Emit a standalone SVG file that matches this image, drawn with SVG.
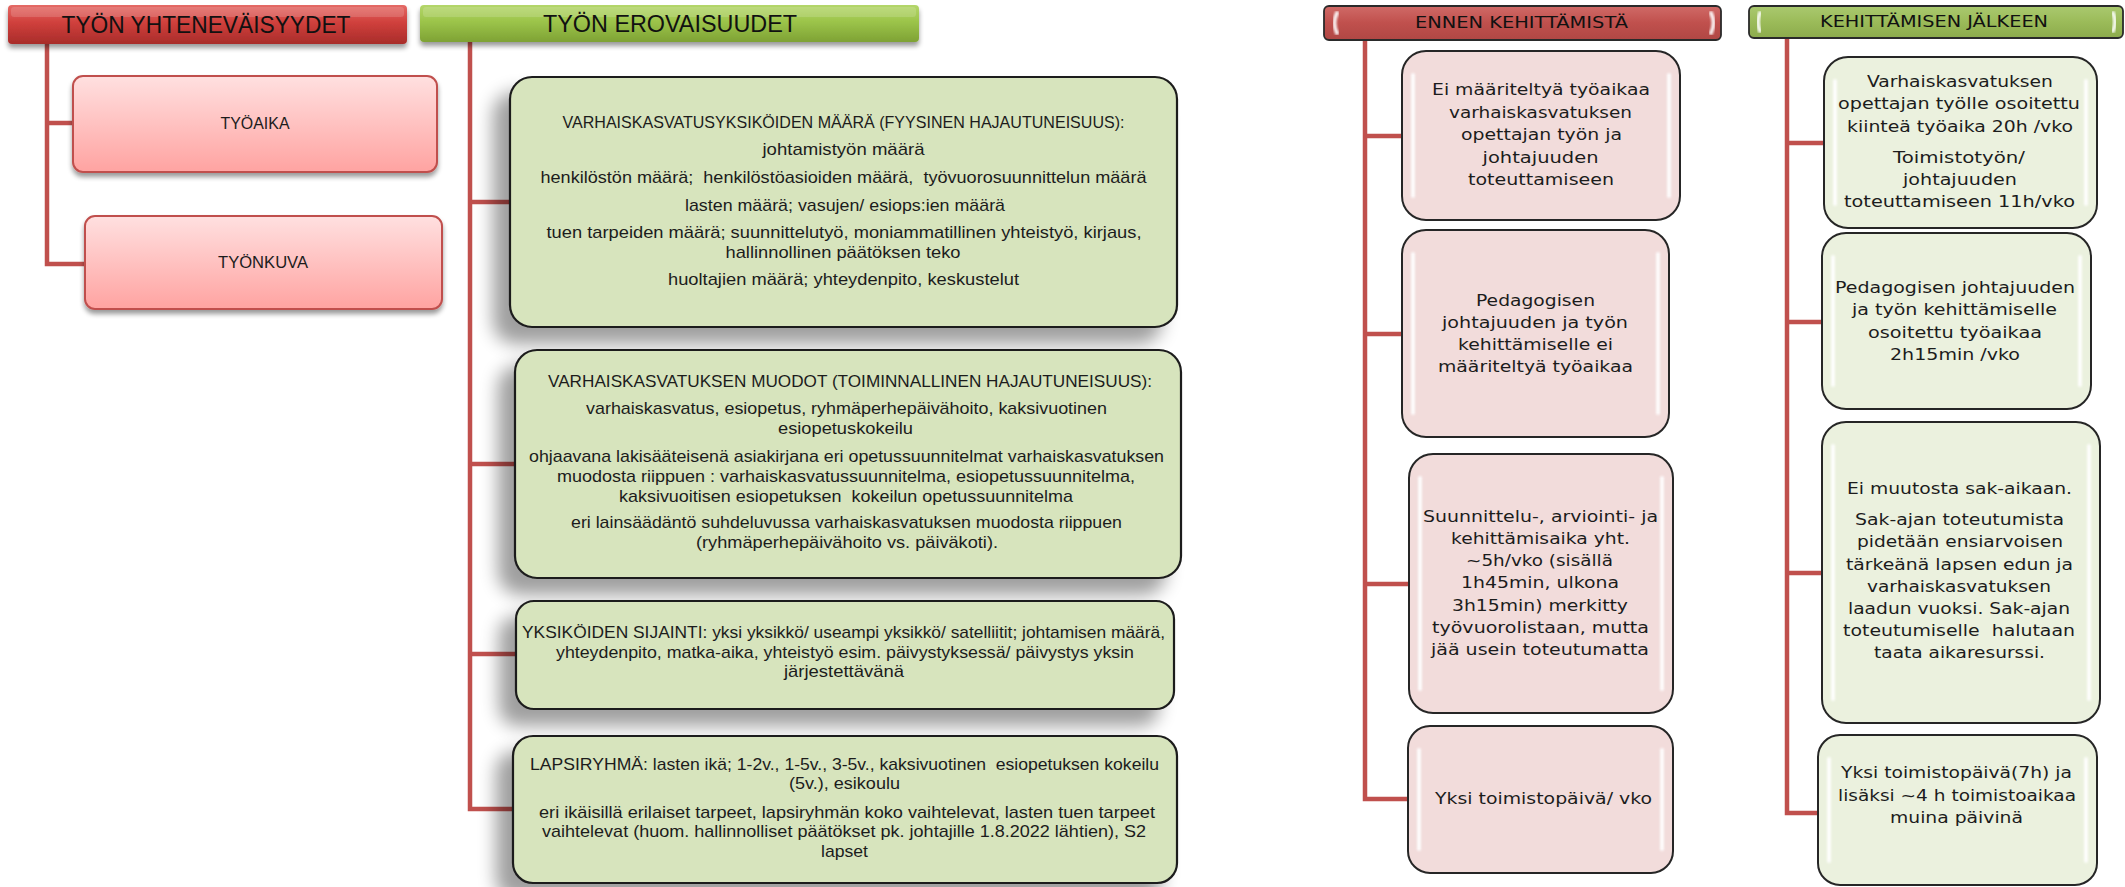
<svg xmlns="http://www.w3.org/2000/svg" width="2125" height="887" viewBox="0 0 2125 887">
<defs>
<linearGradient id="gRedHead" x1="0" y1="0" x2="0" y2="1">
<stop offset="0" stop-color="#e46a66"/><stop offset="0.45" stop-color="#d0403c"/><stop offset="1" stop-color="#a82c2a"/>
</linearGradient>
<linearGradient id="gGreenHead" x1="0" y1="0" x2="0" y2="1">
<stop offset="0" stop-color="#b4d66a"/><stop offset="0.45" stop-color="#9cc44a"/><stop offset="1" stop-color="#7ea234"/>
</linearGradient>
<linearGradient id="gPink" x1="0" y1="0" x2="0" y2="1">
<stop offset="0" stop-color="#ffe0e0"/><stop offset="1" stop-color="#ffa3a1"/>
</linearGradient>
<linearGradient id="gRedBar" x1="0" y1="0" x2="0" y2="1">
<stop offset="0" stop-color="#d06a67"/><stop offset="0.5" stop-color="#c0504d"/><stop offset="1" stop-color="#b04744"/>
</linearGradient>
<linearGradient id="gGreenBar" x1="0" y1="0" x2="0" y2="1">
<stop offset="0" stop-color="#aac96f"/><stop offset="0.5" stop-color="#9bbb59"/><stop offset="1" stop-color="#8cab4c"/>
</linearGradient>
<filter id="bigShadow" x="-20%" y="-20%" width="140%" height="160%">
<feGaussianBlur in="SourceAlpha" stdDeviation="9"/>
<feOffset dx="-16" dy="16" result="b"/>
<feComponentTransfer><feFuncA type="linear" slope="0.38"/></feComponentTransfer>
<feMerge><feMergeNode/><feMergeNode in="SourceGraphic"/></feMerge>
</filter>
<filter id="smallShadow" x="-10%" y="-10%" width="120%" height="140%">
<feGaussianBlur in="SourceAlpha" stdDeviation="2.5"/>
<feOffset dx="0" dy="4"/>
<feComponentTransfer><feFuncA type="linear" slope="0.4"/></feComponentTransfer>
<feMerge><feMergeNode/><feMergeNode in="SourceGraphic"/></feMerge>
</filter>
<filter id="soft" x="-50%" y="-10%" width="200%" height="120%"><feGaussianBlur stdDeviation="1"/></filter>
</defs>
<style>
.conn{fill:none;stroke:#c0504d;stroke-width:4.5;stroke-linejoin:miter}
.big{fill:#d7e4bd;stroke:#1e1e1e;stroke-width:2.2}
.pinkL{fill:url(#gPink);stroke:#c0504d;stroke-width:2}
.pinkR{fill:#f2dcdb;stroke:#262626;stroke-width:2}
.greenR{fill:#ebf1de;stroke:#262626;stroke-width:2}
.hl{fill:none;stroke:#ffffff;stroke-width:4;stroke-linecap:round;opacity:0.9}
.t{font-family:"Liberation Sans",Arial,sans-serif;fill:#1c1c1c;text-anchor:middle}
.tb{font-size:17px}
.tr{font-family:"DejaVu Sans",Verdana,sans-serif;font-size:16.5px;fill:#1c1c1c;text-anchor:middle}
.th{font-family:"Liberation Sans",Arial,sans-serif;font-size:24px;fill:#111;text-anchor:middle}
.thr{font-family:"DejaVu Sans",Verdana,sans-serif;font-size:16px;fill:#111;text-anchor:middle}
</style>
<rect width="2125" height="887" fill="#ffffff"/>

<g id="connectors">
<path class="conn" d="M47 44 V264 H85 M47 123 H73"/>
<path class="conn" d="M470 42 V809 H513 M470 202 H510 M470 464 H515 M470 654 H516"/>
<path class="conn" d="M1365 40 V799 H1408 M1365 136 H1402 M1365 334 H1402 M1365 584 H1409"/>
<path class="conn" d="M1787 38 V813 H1818 M1787 143 H1824 M1787 322 H1822 M1787 573 H1822"/>
</g>

<g id="head-yhtenevaisyydet">
<rect x="8" y="5" width="399" height="39" rx="4" fill="url(#gRedHead)" filter="url(#smallShadow)"/>
<rect x="11" y="7" width="393" height="10" rx="3" fill="#ffffff" opacity="0.15"/>
<text class="th" x="206" y="33" textLength="289" lengthAdjust="spacingAndGlyphs">TYÖN YHTENEVÄISYYDET</text>
</g>

<g id="head-erovaisuudet">
<rect x="420" y="5" width="499" height="37" rx="4" fill="url(#gGreenHead)" filter="url(#smallShadow)"/>
<rect x="423" y="7" width="493" height="10" rx="3" fill="#ffffff" opacity="0.15"/>
<text class="th" x="670" y="32" textLength="254" lengthAdjust="spacingAndGlyphs">TYÖN EROVAISUUDET</text>
</g>

<g id="node-tyoaika">
<rect class="pinkL" x="73" y="76" width="364" height="96" rx="10" filter="url(#smallShadow)"/>
<text class="t" x="255" y="129" style="font-size:16px" textLength="69" lengthAdjust="spacingAndGlyphs">TYÖAIKA</text>
</g>

<g id="node-tyonkuva">
<rect class="pinkL" x="85" y="216" width="357" height="93" rx="10" filter="url(#smallShadow)"/>
<text class="t" x="263" y="268" style="font-size:16px" textLength="90" lengthAdjust="spacingAndGlyphs">TYÖNKUVA</text>
</g>

<g id="node-yksikoiden-maara">
<rect class="big" x="510" y="77" width="667" height="250" rx="22" filter="url(#bigShadow)"/>
<text class="t tb" x="843.5" y="128" textLength="562" lengthAdjust="spacingAndGlyphs">VARHAISKASVATUSYKSIKÖIDEN MÄÄRÄ (FYYSINEN HAJAUTUNEISUUS):</text>
<text class="t tb" x="843.5" y="155" textLength="162" lengthAdjust="spacingAndGlyphs">johtamistyön määrä</text>
<text class="t tb" x="843.5" y="183" textLength="606" lengthAdjust="spacingAndGlyphs" xml:space="preserve">henkilöstön määrä;  henkilöstöasioiden määrä,  työvuorosuunnittelun määrä</text>
<text class="t tb" x="845" y="211" textLength="320" lengthAdjust="spacingAndGlyphs">lasten määrä; vasujen/ esiops:ien määrä</text>
<text class="t tb" x="844" y="238" textLength="595" lengthAdjust="spacingAndGlyphs">tuen tarpeiden määrä; suunnittelutyö, moniammatillinen yhteistyö, kirjaus,</text>
<text class="t tb" x="843" y="258" textLength="235" lengthAdjust="spacingAndGlyphs">hallinnollinen päätöksen teko</text>
<text class="t tb" x="843.5" y="285" textLength="351" lengthAdjust="spacingAndGlyphs">huoltajien määrä; yhteydenpito, keskustelut</text>
</g>

<g id="node-muodot">
<rect class="big" x="515" y="350" width="666" height="228" rx="22" filter="url(#bigShadow)"/>
<text class="t tb" x="850" y="387" textLength="604" lengthAdjust="spacingAndGlyphs">VARHAISKASVATUKSEN MUODOT (TOIMINNALLINEN HAJAUTUNEISUUS):</text>
<text class="t tb" x="846.5" y="414" textLength="521" lengthAdjust="spacingAndGlyphs">varhaiskasvatus, esiopetus, ryhmäperhepäivähoito, kaksivuotinen</text>
<text class="t tb" x="845.5" y="434" textLength="135" lengthAdjust="spacingAndGlyphs">esiopetuskokeilu</text>
<text class="t tb" x="846.5" y="462" textLength="635" lengthAdjust="spacingAndGlyphs">ohjaavana lakisääteisenä asiakirjana eri opetussuunnitelmat varhaiskasvatuksen</text>
<text class="t tb" x="846" y="482" textLength="578" lengthAdjust="spacingAndGlyphs">muodosta riippuen : varhaiskasvatussuunnitelma, esiopetussuunnitelma,</text>
<text class="t tb" x="846" y="502" textLength="454" lengthAdjust="spacingAndGlyphs" xml:space="preserve">kaksivuoitisen esiopetuksen  kokeilun opetussuunnitelma</text>
<text class="t tb" x="846.5" y="528" textLength="551" lengthAdjust="spacingAndGlyphs">eri lainsäädäntö suhdeluvussa varhaiskasvatuksen muodosta riippuen</text>
<text class="t tb" x="847" y="548" textLength="302" lengthAdjust="spacingAndGlyphs">(ryhmäperhepäivähoito vs. päiväkoti).</text>
</g>

<g id="node-sijainti">
<rect class="big" x="516" y="601" width="658" height="108" rx="18" filter="url(#bigShadow)"/>
<text class="t tb" x="843.5" y="638" textLength="643" lengthAdjust="spacingAndGlyphs">YKSIKÖIDEN SIJAINTI: yksi yksikkö/ useampi yksikkö/ satelliitit; johtamisen määrä,</text>
<text class="t tb" x="845" y="658" textLength="578" lengthAdjust="spacingAndGlyphs">yhteydenpito, matka-aika, yhteistyö esim. päivystyksessä/ päivystys yksin</text>
<text class="t tb" x="844" y="677" textLength="120" lengthAdjust="spacingAndGlyphs">järjestettävänä</text>
</g>

<g id="node-lapsiryhma">
<rect class="big" x="513" y="736" width="664" height="147" rx="20" filter="url(#bigShadow)"/>
<text class="t tb" x="844.5" y="770" textLength="629" lengthAdjust="spacingAndGlyphs" xml:space="preserve">LAPSIRYHMÄ: lasten ikä; 1-2v., 1-5v., 3-5v., kaksivuotinen  esiopetuksen kokeilu</text>
<text class="t tb" x="844.5" y="789" textLength="111" lengthAdjust="spacingAndGlyphs">(5v.), esikoulu</text>
<text class="t tb" x="847" y="818" textLength="616" lengthAdjust="spacingAndGlyphs">eri ikäisillä erilaiset tarpeet, lapsiryhmän koko vaihtelevat, lasten tuen tarpeet</text>
<text class="t tb" x="844" y="837" textLength="604" lengthAdjust="spacingAndGlyphs">vaihtelevat (huom. hallinnolliset päätökset pk. johtajille 1.8.2022 lähtien), S2</text>
<text class="t tb" x="844.5" y="857" textLength="47" lengthAdjust="spacingAndGlyphs">lapset</text>
</g>

<g id="head-ennen">
<rect x="1324" y="6" width="397" height="34" rx="5" fill="url(#gRedBar)" stroke="#2a2a2a" stroke-width="1.8"/>
<path d="M1337 13 q-5 10 0 20" class="hl" opacity="0.6" filter="url(#soft)"/>
<path d="M1711 13 q5 10 0 20" class="hl" opacity="0.6" filter="url(#soft)"/>
<text class="thr" x="1521.5" y="28" textLength="213" lengthAdjust="spacingAndGlyphs">ENNEN KEHITTÄMISTÄ</text>
</g>

<g id="head-jalkeen">
<rect x="1749" y="6" width="374" height="32" rx="5" fill="url(#gGreenBar)" stroke="#2a2a2a" stroke-width="1.8"/>
<path d="M1760 13 q-4 9 0 18" class="hl" opacity="0.6" filter="url(#soft)"/>
<path d="M2113 13 q4 9 0 18" class="hl" opacity="0.6" filter="url(#soft)"/>
<text class="thr" x="1934" y="27" textLength="228" lengthAdjust="spacingAndGlyphs">KEHITTÄMISEN JÄLKEEN</text>
</g>

<g id="node-ennen-1">
<rect class="pinkR" x="1402" y="51" width="278" height="169" rx="24"/>
<path class="hl" d="M1413 75 V196 M1669 75 V196" filter="url(#soft)"/>
<text class="tr" x="1541" y="95" textLength="218" lengthAdjust="spacingAndGlyphs">Ei määriteltyä työaikaa</text>
<text class="tr" x="1540.5" y="118" textLength="183" lengthAdjust="spacingAndGlyphs">varhaiskasvatuksen</text>
<text class="tr" x="1541.5" y="140" textLength="161" lengthAdjust="spacingAndGlyphs">opettajan työn ja</text>
<text class="tr" x="1540.5" y="163" textLength="116" lengthAdjust="spacingAndGlyphs">johtajuuden</text>
<text class="tr" x="1541" y="185" textLength="146" lengthAdjust="spacingAndGlyphs">toteuttamiseen</text>
</g>

<g id="node-ennen-2">
<rect class="pinkR" x="1402" y="230" width="267" height="207" rx="24"/>
<path class="hl" d="M1413 254 V413 M1658 254 V413" filter="url(#soft)"/>
<text class="tr" x="1535.5" y="306" textLength="119" lengthAdjust="spacingAndGlyphs">Pedagogisen</text>
<text class="tr" x="1535" y="328" textLength="186" lengthAdjust="spacingAndGlyphs">johtajuuden ja työn</text>
<text class="tr" x="1535.5" y="350" textLength="155" lengthAdjust="spacingAndGlyphs">kehittämiselle ei</text>
<text class="tr" x="1535.5" y="372" textLength="195" lengthAdjust="spacingAndGlyphs">määriteltyä työaikaa</text>
</g>

<g id="node-ennen-3">
<rect class="pinkR" x="1409" y="454" width="264" height="259" rx="24"/>
<path class="hl" d="M1420 478 V689 M1662 478 V689" filter="url(#soft)"/>
<text class="tr" x="1540.5" y="522" textLength="235" lengthAdjust="spacingAndGlyphs">Suunnittelu-, arviointi- ja</text>
<text class="tr" x="1540.5" y="544" textLength="179" lengthAdjust="spacingAndGlyphs">kehittämisaika yht.</text>
<text class="tr" x="1539.5" y="566" textLength="147" lengthAdjust="spacingAndGlyphs">~5h/vko (sisällä</text>
<text class="tr" x="1540" y="588" textLength="158" lengthAdjust="spacingAndGlyphs">1h45min, ulkona</text>
<text class="tr" x="1540" y="611" textLength="176" lengthAdjust="spacingAndGlyphs">3h15min) merkitty</text>
<text class="tr" x="1540.5" y="633" textLength="217" lengthAdjust="spacingAndGlyphs">työvuorolistaan, mutta</text>
<text class="tr" x="1540" y="655" textLength="218" lengthAdjust="spacingAndGlyphs">jää usein toteutumatta</text>
</g>

<g id="node-ennen-4">
<rect class="pinkR" x="1408" y="726" width="265" height="147" rx="22"/>
<path class="hl" d="M1419 750 V849 M1662 750 V849" filter="url(#soft)"/>
<text class="tr" x="1543.5" y="804" textLength="217" lengthAdjust="spacingAndGlyphs">Yksi toimistopäivä/ vko</text>
</g>

<g id="node-jalkeen-1">
<rect class="greenR" x="1824" y="57" width="273" height="171" rx="24"/>
<path class="hl" d="M1835 81 V204 M2086 81 V204" filter="url(#soft)"/>
<text class="tr" x="1960" y="87" textLength="186" lengthAdjust="spacingAndGlyphs">Varhaiskasvatuksen</text>
<text class="tr" x="1959" y="109" textLength="242" lengthAdjust="spacingAndGlyphs">opettajan työlle osoitettu</text>
<text class="tr" x="1960" y="132" textLength="226" lengthAdjust="spacingAndGlyphs">kiinteä työaika 20h /vko</text>
<text class="tr" x="1959" y="163" textLength="132" lengthAdjust="spacingAndGlyphs">Toimistotyön/</text>
<text class="tr" x="1960" y="185" textLength="114" lengthAdjust="spacingAndGlyphs">johtajuuden</text>
<text class="tr" x="1959.5" y="207" textLength="231" lengthAdjust="spacingAndGlyphs">toteuttamiseen 11h/vko</text>
</g>

<g id="node-jalkeen-2">
<rect class="greenR" x="1822" y="233" width="269" height="176" rx="24"/>
<path class="hl" d="M1833 257 V385 M2080 257 V385" filter="url(#soft)"/>
<text class="tr" x="1955" y="293" textLength="240" lengthAdjust="spacingAndGlyphs">Pedagogisen johtajuuden</text>
<text class="tr" x="1954.5" y="315" textLength="205" lengthAdjust="spacingAndGlyphs">ja työn kehittämiselle</text>
<text class="tr" x="1955" y="338" textLength="174" lengthAdjust="spacingAndGlyphs">osoitettu työaikaa</text>
<text class="tr" x="1955" y="360" textLength="130" lengthAdjust="spacingAndGlyphs">2h15min /vko</text>
</g>

<g id="node-jalkeen-3">
<rect class="greenR" x="1822" y="422" width="278" height="301" rx="24"/>
<path class="hl" d="M1833 446 V699 M2089 446 V699" filter="url(#soft)"/>
<text class="tr" x="1959.5" y="494" textLength="225" lengthAdjust="spacingAndGlyphs">Ei muutosta sak-aikaan.</text>
<text class="tr" x="1959.5" y="525" textLength="209" lengthAdjust="spacingAndGlyphs">Sak-ajan toteutumista</text>
<text class="tr" x="1960" y="547" textLength="206" lengthAdjust="spacingAndGlyphs">pidetään ensiarvoisen</text>
<text class="tr" x="1959.5" y="570" textLength="227" lengthAdjust="spacingAndGlyphs">tärkeänä lapsen edun ja</text>
<text class="tr" x="1959" y="592" textLength="184" lengthAdjust="spacingAndGlyphs">varhaiskasvatuksen</text>
<text class="tr" x="1959" y="614" textLength="222" lengthAdjust="spacingAndGlyphs">laadun vuoksi. Sak-ajan</text>
<text class="tr" x="1959" y="636" textLength="232" lengthAdjust="spacingAndGlyphs" xml:space="preserve">toteutumiselle  halutaan</text>
<text class="tr" x="1959.5" y="658" textLength="171" lengthAdjust="spacingAndGlyphs">taata aikaresurssi.</text>
</g>

<g id="node-jalkeen-4">
<rect class="greenR" x="1818" y="735" width="279" height="150" rx="22"/>
<path class="hl" d="M1829 759 V861 M2086 759 V861" filter="url(#soft)"/>
<text class="tr" x="1956.5" y="778" textLength="231" lengthAdjust="spacingAndGlyphs">Yksi toimistopäivä(7h) ja</text>
<text class="tr" x="1957" y="801" textLength="238" lengthAdjust="spacingAndGlyphs">lisäksi ~4 h toimistoaikaa</text>
<text class="tr" x="1956.5" y="823" textLength="133" lengthAdjust="spacingAndGlyphs">muina päivinä</text>
</g>
</svg>
